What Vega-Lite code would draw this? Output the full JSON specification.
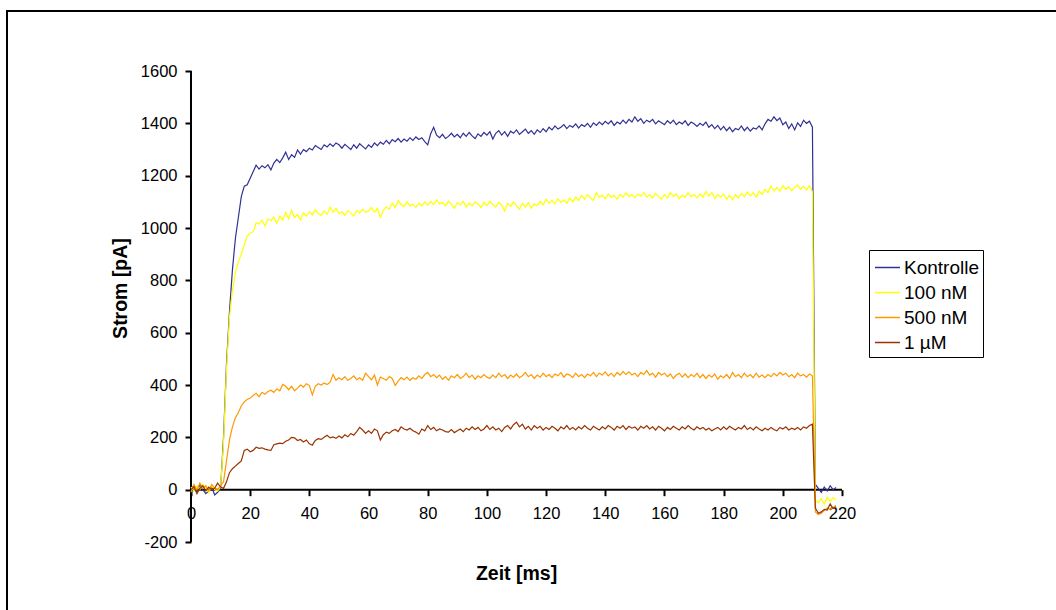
{
"$schema": "https://vega.github.io/schema/vega-lite/v6.json",
"width": 1056, "height": 606,
"autosize": {"type": "none"},
"padding": {"left": 7, "top": 11, "right": -7, "bottom": -7},
"background": "white",
"config": {"view": {"stroke": "black", "strokeWidth": 2}, "font": "Liberation Sans"},
"layer": [
{
"data": {"values": [{}]},
"mark": {"type": "rule", "color": "black", "strokeWidth": 2},
"encoding": {
"x": {"datum": 0, "type": "quantitative", "scale": {"domain": [-62.18, 294.68], "nice": false, "zero": false}},
"y": {"datum": -200, "type": "quantitative", "scale": {"domain": [-486.6, 1829.3], "nice": false, "zero": false}},
"y2": {"datum": 1600}
}
},
{
"data": {"values": [{}]},
"mark": {"type": "rule", "color": "black", "strokeWidth": 2},
"encoding": {
"x": {"datum": 0, "type": "quantitative", "scale": {"domain": [-62.18, 294.68], "nice": false, "zero": false}},
"x2": {"datum": 220},
"y": {"datum": 0, "type": "quantitative", "scale": {"domain": [-486.6, 1829.3], "nice": false, "zero": false}}
}
},
{
"data": {"values": [
{"t":0,"Kontrolle":5,"100 nM":10,"500 nM":-10,"1 µM":0},
{"t":1,"Kontrolle":15,"100 nM":-5,"500 nM":20,"1 µM":10},
{"t":2,"Kontrolle":-10,"100 nM":15,"500 nM":0,"1 µM":-15},
{"t":3,"Kontrolle":20,"100 nM":0,"500 nM":25,"1 µM":5},
{"t":4,"Kontrolle":0,"100 nM":20,"500 nM":5,"1 µM":15},
{"t":5,"Kontrolle":-15,"100 nM":5,"500 nM":15,"1 µM":-5},
{"t":6,"Kontrolle":-5,"100 nM":-10,"500 nM":-5,"1 µM":10},
{"t":7,"Kontrolle":10,"100 nM":15,"500 nM":20,"1 µM":0},
{"t":8,"Kontrolle":-20,"100 nM":0,"500 nM":5,"1 µM":5},
{"t":9,"Kontrolle":-10,"100 nM":-5,"500 nM":0,"1 µM":25},
{"t":10,"Kontrolle":5,"100 nM":10,"500 nM":15,"1 µM":10},
{"t":11,"Kontrolle":200,"100 nM":180,"500 nM":30,"1 µM":5},
{"t":12,"Kontrolle":480,"100 nM":460,"500 nM":110,"1 µM":30},
{"t":13,"Kontrolle":680,"100 nM":660,"500 nM":190,"1 µM":65},
{"t":14,"Kontrolle":840,"100 nM":760,"500 nM":240,"1 µM":80},
{"t":15,"Kontrolle":960,"100 nM":830,"500 nM":275,"1 µM":90},
{"t":16,"Kontrolle":1040,"100 nM":870,"500 nM":295,"1 µM":100},
{"t":17,"Kontrolle":1120,"100 nM":900,"500 nM":320,"1 µM":110},
{"t":18,"Kontrolle":1160,"100 nM":935,"500 nM":335,"1 µM":150},
{"t":19,"Kontrolle":1165,"100 nM":970,"500 nM":345,"1 µM":155},
{"t":20,"Kontrolle":1190,"100 nM":980,"500 nM":350,"1 µM":145},
{"t":21,"Kontrolle":1215,"100 nM":985,"500 nM":360,"1 µM":150},
{"t":22,"Kontrolle":1240,"100 nM":1020,"500 nM":368,"1 µM":162},
{"t":23,"Kontrolle":1225,"100 nM":1015,"500 nM":355,"1 µM":158},
{"t":24,"Kontrolle":1238,"100 nM":1030,"500 nM":372,"1 µM":160},
{"t":25,"Kontrolle":1230,"100 nM":1008,"500 nM":365,"1 µM":155},
{"t":26,"Kontrolle":1242,"100 nM":1035,"500 nM":375,"1 µM":152},
{"t":27,"Kontrolle":1222,"100 nM":1028,"500 nM":380,"1 µM":150},
{"t":28,"Kontrolle":1248,"100 nM":1042,"500 nM":372,"1 µM":172},
{"t":29,"Kontrolle":1262,"100 nM":1018,"500 nM":385,"1 µM":175},
{"t":30,"Kontrolle":1250,"100 nM":1045,"500 nM":378,"1 µM":178},
{"t":31,"Kontrolle":1268,"100 nM":1030,"500 nM":402,"1 µM":176},
{"t":32,"Kontrolle":1290,"100 nM":1060,"500 nM":395,"1 µM":185},
{"t":33,"Kontrolle":1262,"100 nM":1035,"500 nM":382,"1 µM":190},
{"t":34,"Kontrolle":1280,"100 nM":1068,"500 nM":395,"1 µM":200},
{"t":35,"Kontrolle":1270,"100 nM":1040,"500 nM":378,"1 µM":198},
{"t":36,"Kontrolle":1298,"100 nM":1052,"500 nM":388,"1 µM":188},
{"t":37,"Kontrolle":1282,"100 nM":1030,"500 nM":400,"1 µM":192},
{"t":38,"Kontrolle":1300,"100 nM":1058,"500 nM":392,"1 µM":182},
{"t":39,"Kontrolle":1292,"100 nM":1045,"500 nM":405,"1 µM":190},
{"t":40,"Kontrolle":1305,"100 nM":1062,"500 nM":398,"1 µM":175},
{"t":41,"Kontrolle":1298,"100 nM":1050,"500 nM":362,"1 µM":170},
{"t":42,"Kontrolle":1315,"100 nM":1070,"500 nM":395,"1 µM":188},
{"t":43,"Kontrolle":1308,"100 nM":1055,"500 nM":405,"1 µM":195},
{"t":44,"Kontrolle":1300,"100 nM":1048,"500 nM":400,"1 µM":192},
{"t":45,"Kontrolle":1318,"100 nM":1066,"500 nM":408,"1 µM":200},
{"t":46,"Kontrolle":1310,"100 nM":1052,"500 nM":402,"1 µM":208},
{"t":47,"Kontrolle":1322,"100 nM":1080,"500 nM":410,"1 µM":198},
{"t":48,"Kontrolle":1312,"100 nM":1060,"500 nM":440,"1 µM":202},
{"t":49,"Kontrolle":1325,"100 nM":1075,"500 nM":418,"1 µM":196},
{"t":50,"Kontrolle":1318,"100 nM":1055,"500 nM":428,"1 µM":205},
{"t":51,"Kontrolle":1305,"100 nM":1062,"500 nM":420,"1 µM":198},
{"t":52,"Kontrolle":1320,"100 nM":1048,"500 nM":432,"1 µM":210},
{"t":53,"Kontrolle":1310,"100 nM":1066,"500 nM":418,"1 µM":202},
{"t":54,"Kontrolle":1300,"100 nM":1058,"500 nM":425,"1 µM":215},
{"t":55,"Kontrolle":1318,"100 nM":1045,"500 nM":435,"1 µM":208},
{"t":56,"Kontrolle":1305,"100 nM":1068,"500 nM":420,"1 µM":222},
{"t":57,"Kontrolle":1322,"100 nM":1058,"500 nM":428,"1 µM":238},
{"t":58,"Kontrolle":1312,"100 nM":1072,"500 nM":418,"1 µM":228},
{"t":59,"Kontrolle":1302,"100 nM":1060,"500 nM":445,"1 µM":215},
{"t":60,"Kontrolle":1318,"100 nM":1065,"500 nM":432,"1 µM":225},
{"t":61,"Kontrolle":1308,"100 nM":1078,"500 nM":420,"1 µM":215},
{"t":62,"Kontrolle":1325,"100 nM":1060,"500 nM":438,"1 µM":232},
{"t":63,"Kontrolle":1315,"100 nM":1075,"500 nM":400,"1 µM":225},
{"t":64,"Kontrolle":1328,"100 nM":1040,"500 nM":430,"1 µM":190},
{"t":65,"Kontrolle":1320,"100 nM":1068,"500 nM":425,"1 µM":210},
{"t":66,"Kontrolle":1335,"100 nM":1080,"500 nM":418,"1 µM":220},
{"t":67,"Kontrolle":1322,"100 nM":1072,"500 nM":432,"1 µM":215},
{"t":68,"Kontrolle":1338,"100 nM":1095,"500 nM":425,"1 µM":225},
{"t":69,"Kontrolle":1330,"100 nM":1078,"500 nM":398,"1 µM":230},
{"t":70,"Kontrolle":1342,"100 nM":1105,"500 nM":415,"1 µM":222},
{"t":71,"Kontrolle":1328,"100 nM":1090,"500 nM":428,"1 µM":240},
{"t":72,"Kontrolle":1340,"100 nM":1082,"500 nM":420,"1 µM":232},
{"t":73,"Kontrolle":1332,"100 nM":1100,"500 nM":430,"1 µM":228},
{"t":74,"Kontrolle":1345,"100 nM":1085,"500 nM":418,"1 µM":235},
{"t":75,"Kontrolle":1335,"100 nM":1092,"500 nM":428,"1 µM":225},
{"t":76,"Kontrolle":1348,"100 nM":1078,"500 nM":422,"1 µM":220},
{"t":77,"Kontrolle":1338,"100 nM":1095,"500 nM":435,"1 µM":212},
{"t":78,"Kontrolle":1345,"100 nM":1085,"500 nM":425,"1 µM":232},
{"t":79,"Kontrolle":1330,"100 nM":1100,"500 nM":440,"1 µM":225},
{"t":80,"Kontrolle":1318,"100 nM":1088,"500 nM":448,"1 µM":245},
{"t":81,"Kontrolle":1360,"100 nM":1102,"500 nM":432,"1 µM":230},
{"t":82,"Kontrolle":1385,"100 nM":1090,"500 nM":440,"1 µM":238},
{"t":83,"Kontrolle":1355,"100 nM":1108,"500 nM":428,"1 µM":225},
{"t":84,"Kontrolle":1345,"100 nM":1092,"500 nM":438,"1 µM":232},
{"t":85,"Kontrolle":1358,"100 nM":1098,"500 nM":422,"1 µM":228},
{"t":86,"Kontrolle":1342,"100 nM":1085,"500 nM":432,"1 µM":222},
{"t":87,"Kontrolle":1350,"100 nM":1102,"500 nM":418,"1 µM":220},
{"t":88,"Kontrolle":1362,"100 nM":1090,"500 nM":435,"1 µM":230},
{"t":89,"Kontrolle":1348,"100 nM":1075,"500 nM":428,"1 µM":218},
{"t":90,"Kontrolle":1358,"100 nM":1098,"500 nM":440,"1 µM":225},
{"t":91,"Kontrolle":1345,"100 nM":1088,"500 nM":425,"1 µM":232},
{"t":92,"Kontrolle":1362,"100 nM":1102,"500 nM":432,"1 µM":222},
{"t":93,"Kontrolle":1350,"100 nM":1080,"500 nM":445,"1 µM":235},
{"t":94,"Kontrolle":1365,"100 nM":1095,"500 nM":428,"1 µM":228},
{"t":95,"Kontrolle":1352,"100 nM":1085,"500 nM":438,"1 µM":240},
{"t":96,"Kontrolle":1342,"100 nM":1100,"500 nM":422,"1 µM":230},
{"t":97,"Kontrolle":1360,"100 nM":1092,"500 nM":435,"1 µM":238},
{"t":98,"Kontrolle":1350,"100 nM":1078,"500 nM":428,"1 µM":225},
{"t":99,"Kontrolle":1365,"100 nM":1098,"500 nM":440,"1 µM":232},
{"t":100,"Kontrolle":1355,"100 nM":1085,"500 nM":430,"1 µM":245},
{"t":101,"Kontrolle":1368,"100 nM":1102,"500 nM":425,"1 µM":230},
{"t":102,"Kontrolle":1340,"100 nM":1090,"500 nM":438,"1 µM":240},
{"t":103,"Kontrolle":1362,"100 nM":1080,"500 nM":428,"1 µM":228},
{"t":104,"Kontrolle":1372,"100 nM":1098,"500 nM":445,"1 µM":235},
{"t":105,"Kontrolle":1355,"100 nM":1088,"500 nM":432,"1 µM":222},
{"t":106,"Kontrolle":1368,"100 nM":1065,"500 nM":440,"1 µM":238},
{"t":107,"Kontrolle":1350,"100 nM":1095,"500 nM":425,"1 µM":245},
{"t":108,"Kontrolle":1370,"100 nM":1082,"500 nM":438,"1 µM":232},
{"t":109,"Kontrolle":1362,"100 nM":1100,"500 nM":430,"1 µM":248},
{"t":110,"Kontrolle":1375,"100 nM":1085,"500 nM":442,"1 µM":258},
{"t":111,"Kontrolle":1358,"100 nM":1072,"500 nM":428,"1 µM":240},
{"t":112,"Kontrolle":1368,"100 nM":1095,"500 nM":435,"1 µM":250},
{"t":113,"Kontrolle":1378,"100 nM":1080,"500 nM":448,"1 µM":232},
{"t":114,"Kontrolle":1362,"100 nM":1098,"500 nM":432,"1 µM":242},
{"t":115,"Kontrolle":1372,"100 nM":1075,"500 nM":440,"1 µM":228},
{"t":116,"Kontrolle":1358,"100 nM":1092,"500 nM":425,"1 µM":245},
{"t":117,"Kontrolle":1375,"100 nM":1085,"500 nM":438,"1 µM":235},
{"t":118,"Kontrolle":1365,"100 nM":1102,"500 nM":430,"1 µM":242},
{"t":119,"Kontrolle":1380,"100 nM":1088,"500 nM":445,"1 µM":228},
{"t":120,"Kontrolle":1368,"100 nM":1110,"500 nM":432,"1 µM":238},
{"t":121,"Kontrolle":1385,"100 nM":1095,"500 nM":440,"1 µM":230},
{"t":122,"Kontrolle":1375,"100 nM":1105,"500 nM":428,"1 µM":242},
{"t":123,"Kontrolle":1390,"100 nM":1092,"500 nM":442,"1 µM":235},
{"t":124,"Kontrolle":1378,"100 nM":1112,"500 nM":435,"1 µM":225},
{"t":125,"Kontrolle":1385,"100 nM":1098,"500 nM":448,"1 µM":240},
{"t":126,"Kontrolle":1395,"100 nM":1108,"500 nM":430,"1 µM":232},
{"t":127,"Kontrolle":1380,"100 nM":1095,"500 nM":442,"1 µM":245},
{"t":128,"Kontrolle":1392,"100 nM":1115,"500 nM":438,"1 µM":230},
{"t":129,"Kontrolle":1385,"100 nM":1100,"500 nM":428,"1 µM":238},
{"t":130,"Kontrolle":1398,"100 nM":1118,"500 nM":445,"1 µM":228},
{"t":131,"Kontrolle":1382,"100 nM":1105,"500 nM":432,"1 µM":240},
{"t":132,"Kontrolle":1395,"100 nM":1125,"500 nM":440,"1 µM":232},
{"t":133,"Kontrolle":1388,"100 nM":1110,"500 nM":428,"1 µM":245},
{"t":134,"Kontrolle":1400,"100 nM":1128,"500 nM":442,"1 µM":235},
{"t":135,"Kontrolle":1385,"100 nM":1115,"500 nM":435,"1 µM":228},
{"t":136,"Kontrolle":1402,"100 nM":1105,"500 nM":448,"1 µM":242},
{"t":137,"Kontrolle":1392,"100 nM":1135,"500 nM":432,"1 µM":235},
{"t":138,"Kontrolle":1405,"100 nM":1118,"500 nM":445,"1 µM":228},
{"t":139,"Kontrolle":1395,"100 nM":1125,"500 nM":438,"1 µM":240},
{"t":140,"Kontrolle":1408,"100 nM":1112,"500 nM":450,"1 µM":232},
{"t":141,"Kontrolle":1398,"100 nM":1130,"500 nM":435,"1 µM":245},
{"t":142,"Kontrolle":1410,"100 nM":1118,"500 nM":445,"1 µM":238},
{"t":143,"Kontrolle":1392,"100 nM":1125,"500 nM":432,"1 µM":228},
{"t":144,"Kontrolle":1405,"100 nM":1110,"500 nM":448,"1 µM":242},
{"t":145,"Kontrolle":1398,"100 nM":1128,"500 nM":438,"1 µM":235},
{"t":146,"Kontrolle":1412,"100 nM":1118,"500 nM":452,"1 µM":245},
{"t":147,"Kontrolle":1400,"100 nM":1135,"500 nM":440,"1 µM":230},
{"t":148,"Kontrolle":1415,"100 nM":1120,"500 nM":450,"1 µM":242},
{"t":149,"Kontrolle":1405,"100 nM":1128,"500 nM":438,"1 µM":235},
{"t":150,"Kontrolle":1425,"100 nM":1115,"500 nM":445,"1 µM":240},
{"t":151,"Kontrolle":1408,"100 nM":1130,"500 nM":432,"1 µM":228},
{"t":152,"Kontrolle":1418,"100 nM":1122,"500 nM":448,"1 µM":242},
{"t":153,"Kontrolle":1400,"100 nM":1135,"500 nM":440,"1 µM":235},
{"t":154,"Kontrolle":1412,"100 nM":1118,"500 nM":455,"1 µM":245},
{"t":155,"Kontrolle":1405,"100 nM":1128,"500 nM":438,"1 µM":232},
{"t":156,"Kontrolle":1415,"100 nM":1115,"500 nM":445,"1 µM":240},
{"t":157,"Kontrolle":1398,"100 nM":1132,"500 nM":430,"1 µM":228},
{"t":158,"Kontrolle":1410,"100 nM":1120,"500 nM":448,"1 µM":242},
{"t":159,"Kontrolle":1402,"100 nM":1110,"500 nM":438,"1 µM":235},
{"t":160,"Kontrolle":1395,"100 nM":1128,"500 nM":445,"1 µM":225},
{"t":161,"Kontrolle":1410,"100 nM":1115,"500 nM":432,"1 µM":238},
{"t":162,"Kontrolle":1400,"100 nM":1135,"500 nM":442,"1 µM":230},
{"t":163,"Kontrolle":1412,"100 nM":1120,"500 nM":425,"1 µM":242},
{"t":164,"Kontrolle":1395,"100 nM":1130,"500 nM":438,"1 µM":235},
{"t":165,"Kontrolle":1405,"100 nM":1112,"500 nM":445,"1 µM":228},
{"t":166,"Kontrolle":1398,"100 nM":1125,"500 nM":430,"1 µM":240},
{"t":167,"Kontrolle":1410,"100 nM":1118,"500 nM":442,"1 µM":232},
{"t":168,"Kontrolle":1392,"100 nM":1135,"500 nM":428,"1 µM":245},
{"t":169,"Kontrolle":1405,"100 nM":1120,"500 nM":440,"1 µM":235},
{"t":170,"Kontrolle":1398,"100 nM":1128,"500 nM":432,"1 µM":228},
{"t":171,"Kontrolle":1388,"100 nM":1115,"500 nM":445,"1 µM":240},
{"t":172,"Kontrolle":1400,"100 nM":1130,"500 nM":428,"1 µM":232},
{"t":173,"Kontrolle":1392,"100 nM":1118,"500 nM":440,"1 µM":238},
{"t":174,"Kontrolle":1405,"100 nM":1140,"500 nM":425,"1 µM":228},
{"t":175,"Kontrolle":1385,"100 nM":1122,"500 nM":438,"1 µM":235},
{"t":176,"Kontrolle":1395,"100 nM":1135,"500 nM":430,"1 µM":225},
{"t":177,"Kontrolle":1380,"100 nM":1112,"500 nM":442,"1 µM":232},
{"t":178,"Kontrolle":1392,"100 nM":1128,"500 nM":422,"1 µM":238},
{"t":179,"Kontrolle":1375,"100 nM":1118,"500 nM":435,"1 µM":228},
{"t":180,"Kontrolle":1388,"100 nM":1130,"500 nM":428,"1 µM":240},
{"t":181,"Kontrolle":1372,"100 nM":1110,"500 nM":440,"1 µM":230},
{"t":182,"Kontrolle":1385,"100 nM":1125,"500 nM":425,"1 µM":242},
{"t":183,"Kontrolle":1368,"100 nM":1108,"500 nM":448,"1 µM":235},
{"t":184,"Kontrolle":1380,"100 nM":1128,"500 nM":432,"1 µM":228},
{"t":185,"Kontrolle":1375,"100 nM":1115,"500 nM":440,"1 µM":238},
{"t":186,"Kontrolle":1390,"100 nM":1132,"500 nM":428,"1 µM":232},
{"t":187,"Kontrolle":1372,"100 nM":1120,"500 nM":445,"1 µM":245},
{"t":188,"Kontrolle":1385,"100 nM":1138,"500 nM":432,"1 µM":230},
{"t":189,"Kontrolle":1370,"100 nM":1122,"500 nM":440,"1 µM":238},
{"t":190,"Kontrolle":1382,"100 nM":1135,"500 nM":428,"1 µM":228},
{"t":191,"Kontrolle":1378,"100 nM":1118,"500 nM":445,"1 µM":240},
{"t":192,"Kontrolle":1390,"100 nM":1140,"500 nM":430,"1 µM":232},
{"t":193,"Kontrolle":1375,"100 nM":1128,"500 nM":438,"1 µM":225},
{"t":194,"Kontrolle":1398,"100 nM":1148,"500 nM":428,"1 µM":235},
{"t":195,"Kontrolle":1415,"100 nM":1135,"500 nM":440,"1 µM":228},
{"t":196,"Kontrolle":1408,"100 nM":1160,"500 nM":432,"1 µM":238},
{"t":197,"Kontrolle":1425,"100 nM":1142,"500 nM":445,"1 µM":230},
{"t":198,"Kontrolle":1410,"100 nM":1155,"500 nM":435,"1 µM":225},
{"t":199,"Kontrolle":1420,"100 nM":1140,"500 nM":448,"1 µM":238},
{"t":200,"Kontrolle":1395,"100 nM":1162,"500 nM":438,"1 µM":232},
{"t":201,"Kontrolle":1405,"100 nM":1148,"500 nM":445,"1 µM":240},
{"t":202,"Kontrolle":1380,"100 nM":1158,"500 nM":432,"1 µM":228},
{"t":203,"Kontrolle":1398,"100 nM":1142,"500 nM":440,"1 µM":235},
{"t":204,"Kontrolle":1375,"100 nM":1155,"500 nM":428,"1 µM":230},
{"t":205,"Kontrolle":1402,"100 nM":1165,"500 nM":445,"1 µM":238},
{"t":206,"Kontrolle":1388,"100 nM":1148,"500 nM":435,"1 µM":228},
{"t":207,"Kontrolle":1412,"100 nM":1160,"500 nM":440,"1 µM":240},
{"t":208,"Kontrolle":1400,"100 nM":1145,"500 nM":430,"1 µM":235},
{"t":209,"Kontrolle":1408,"100 nM":1162,"500 nM":442,"1 µM":245},
{"t":210,"Kontrolle":1385,"100 nM":1138,"500 nM":435,"1 µM":250},
{"t":211,"Kontrolle":20,"100 nM":-40,"500 nM":-85,"1 µM":-70},
{"t":212,"Kontrolle":5,"100 nM":-50,"500 nM":-95,"1 µM":-90},
{"t":213,"Kontrolle":-10,"100 nM":-35,"500 nM":-90,"1 µM":-85},
{"t":214,"Kontrolle":10,"100 nM":-55,"500 nM":-80,"1 µM":-75},
{"t":215,"Kontrolle":-5,"100 nM":-30,"500 nM":-70,"1 µM":-78},
{"t":216,"Kontrolle":15,"100 nM":-45,"500 nM":-75,"1 µM":-55},
{"t":217,"Kontrolle":0,"100 nM":-30,"500 nM":-68,"1 µM":-72},
{"t":218,"Kontrolle":8,"100 nM":-40,"500 nM":-60,"1 µM":-65}
]},
"transform": [{"fold": ["Kontrolle", "100 nM", "500 nM", "1 µM"], "as": ["serie", "strom"]}],
"mark": {"type": "line", "strokeWidth": 1.2},
"encoding": {
"x": {"field": "t", "type": "quantitative",
 "scale": {"domain": [-62.18, 294.68], "nice": false, "zero": false},
 "axis": {"title": "Zeit [ms]", "orient": "bottom", "offset": -127.33, "domain": false, "grid": false,
  "values": [0,20,40,60,80,100,120,140,160,180,200,220], "format": "d",
  "tickSize": 6, "tickWidth": 2, "tickColor": "black",
  "labelFont": "Liberation Sans", "labelFontSize": 16.5, "labelColor": "black", "labelPadding": 10,
  "labelFlush": false, "labelOverlap": false,
  "titleFont": "Liberation Sans", "titleFontSize": 19.5, "titleFontWeight": "bold", "titleColor": "black",
  "titleX": 509, "titleY": 90, "titleBaseline": "alphabetic", "titleAlign": "center"}},
"y": {"field": "strom", "type": "quantitative",
 "scale": {"domain": [-486.6, 1829.3], "nice": false, "zero": false},
 "axis": {"title": "Strom [pA]", "orient": "left", "offset": -184, "domain": false, "grid": false,
  "values": [-200,0,200,400,600,800,1000,1200,1400,1600], "labelExpr": "'' + datum.value",
  "tickSize": 6, "tickWidth": 2, "tickColor": "black",
  "labelFont": "Liberation Sans", "labelFontSize": 16.5, "labelColor": "black", "labelPadding": 8,
  "labelFlush": false, "labelOverlap": false,
  "titleFont": "Liberation Sans", "titleFontSize": 19.5, "titleFontWeight": "bold", "titleColor": "black",
  "titleX": -65, "titleY": 277, "titleBaseline": "alphabetic", "titleAlign": "center", "titleAngle": -90}},
"color": {"field": "serie", "type": "nominal",
 "scale": {"domain": ["Kontrolle", "100 nM", "500 nM", "1 µM"], "range": ["#303096", "#ffff00", "#ff9900", "#993300"]},
 "legend": {"orient": "none", "legendX": 862, "legendY": 239, "title": null,
  "strokeColor": "black", "fillColor": "white", "padding": 4,
  "symbolType": "stroke", "symbolSize": 625, "symbolStrokeWidth": 1.5, "symbolOffset": 1,
  "labelOffset": 3, "labelFont": "Liberation Sans", "labelFontSize": 19, "labelColor": "black", "rowPadding": 1}}
}
}
]
}
